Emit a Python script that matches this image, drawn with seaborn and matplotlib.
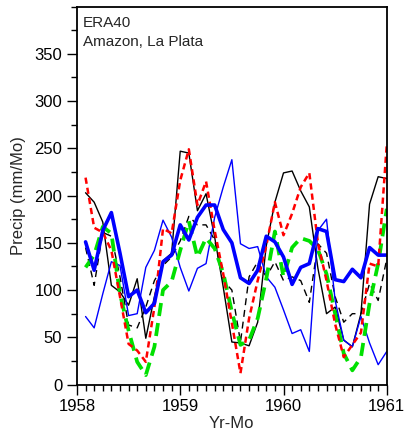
import numpy as np
import pandas as pd
import matplotlib
matplotlib.use("Agg")
import matplotlib.pyplot as plt
import seaborn as sns
from matplotlib.ticker import MultipleLocator

# month index since Jan 1958 (1 = end of first month)
months = list(range(1, 37))

black_solid = [203, 193, 172, 105, 98, 84, 112, 49, 93, 131, 139, 247,
               245, 184, 202, 156, 103, 45, 44, 41, 66, 147, 193, 224,
               226, 205, 188, 123, 75, 82, 47, 40, 75, 191, 220, 218]
black_dashed = [145, 105, 161, 157, 114, 63, 60, 82, 110, 126, 135, 152,
                178, 169, 169, 153, 110, 100, 45, 114, 130, 114, 130, 110,
                114, 110, 87, 149, 139, 93, 66, 75, 75, 107, 89, 133]
red_dashed = [219, 166, 161, 142, 93, 43, 36, 24, 82, 165, 160, 216,
              249, 190, 215, 163, 117, 65, 12, 70, 110, 147, 193, 158,
              181, 209, 224, 150, 110, 64, 29, 42, 55, 128, 125, 254]
green_dashed = [124, 137, 167, 160, 96, 57, 24, 10, 40, 100, 109, 142,
                173, 135, 155, 144, 118, 77, 42, 47, 70, 112, 162, 114,
                145, 155, 152, 143, 117, 75, 33, 15, 29, 86, 128, 186]
blue_thin = [72, 60, 96, 130, 126, 73, 75, 124, 142, 174, 156, 124,
             99, 123, 128, 177, 209, 238, 149, 144, 146, 114, 103, 79,
             54, 58, 35, 163, 175, 89, 47, 40, 72, 44, 21, 35]
blue_thick = [151, 121, 163, 182, 139, 93, 100, 76, 86, 130, 137, 169,
              153, 177, 190, 190, 164, 150, 113, 107, 121, 157, 151, 135,
              106, 124, 128, 165, 162, 111, 109, 122, 113, 145, 137, 137]

year_ticks = [1958, 1959, 1960, 1961]
ytick_vals = [0, 50, 100, 150, 200, 250, 300, 350]

sns.set_theme(style="ticks")
plt.rcParams['font.family'] = ['Liberation Sans', 'DejaVu Sans']

fig = plt.figure(figsize=(4.05, 4.42), dpi=100)
ax = fig.add_axes([0.19, 0.13, 0.765, 0.855])

x = 1958 + np.array(months) / 12.0

styles = [
    (black_solid, dict(color="black", lw=1.0, ls="-")),
    (black_dashed, dict(color="black", lw=1.0, ls=(0, (5, 3.5)))),
    (blue_thin, dict(color="#0000ff", lw=1.0, ls="-")),
    (green_dashed, dict(color="#00e000", lw=2.7, ls=(0, (3.5, 1.9)))),
    (red_dashed, dict(color="#ff0000", lw=1.8, ls=(0, (2.5, 1.6)))),
    (blue_thick, dict(color="#0000ff", lw=2.6, ls="-")),
]
for vals, st in styles:
    sns.lineplot(x=x, y=vals, ax=ax, color=st["color"], linewidth=st["lw"],
                 linestyle=st["ls"], legend=False)

ax.set_xlim(1958, 1961)
ax.set_ylim(0, 400)
ax.set_xticks(year_ticks)
ax.set_xticklabels([str(y) for y in year_ticks])
ax.xaxis.set_minor_locator(MultipleLocator(1/12))
ax.set_yticks(ytick_vals)
ax.yaxis.set_minor_locator(MultipleLocator(25))

ax.tick_params(axis='both', which='major', direction='out', length=7.5, width=1,
               labelsize=12, color='black', labelcolor='black', pad=3)
ax.tick_params(axis='both', which='minor', direction='out', length=4, width=1,
               color='black')
for s in ax.spines.values():
    s.set_visible(True)
    s.set_linewidth(1.3)
    s.set_color('black')

ax.set_xlabel("Yr-Mo", fontsize=12, labelpad=1)
ax.set_ylabel("Precip (mm/Mo)", fontsize=12, labelpad=6)

ax.text(0.019, 0.957, "ERA40", transform=ax.transAxes,
        ha='left', va='center', fontsize=11)
ax.text(0.019, 0.907, "Amazon, La Plata", transform=ax.transAxes,
        ha='left', va='center', fontsize=11)

ax.grid(False)
fig.savefig("out.png", dpi=100)
